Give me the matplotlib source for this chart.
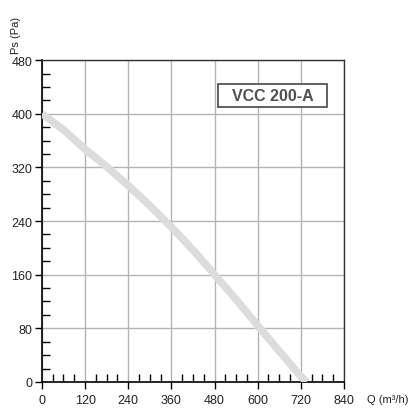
import matplotlib.pyplot as plt
from matplotlib.patches import Rectangle
from matplotlib.ticker import MultipleLocator

# fan curve (Q in m3/h, Ps in Pa)
flow = [0, 60, 120, 180, 240, 300, 360, 420, 480, 540, 600, 660, 720, 736]
pressure = [400, 376, 347, 321, 293, 263, 231, 197, 160, 123, 84, 46, 8, 0]

x_ticks = [0, 120, 240, 360, 480, 600, 720, 840]
y_ticks = [0, 80, 160, 240, 320, 400, 480]
model_name = "VCC 200-A"

plt.rcParams["font.family"] = ["Liberation Sans", "DejaVu Sans"]

fig = plt.figure(figsize=(4.11, 4.10), dpi=100)
ax = fig.add_axes([0.102, 0.066, 0.735, 0.785])

ax.plot(flow, pressure, color="#dcdcdc", lw=5.5, solid_capstyle="butt", zorder=3)

ax.set_xlim(0, 840)
ax.set_ylim(0, 480)
ax.set_xticks(x_ticks)
ax.set_yticks(y_ticks)
ax.xaxis.set_minor_locator(MultipleLocator(30))
ax.yaxis.set_minor_locator(MultipleLocator(20))
ax.grid(True, which="major", color="#b4b4b4", lw=1)
ax.set_axisbelow(True)

ax.tick_params(which="major", direction="out", length=5, width=1, labelsize=9,
               labelcolor="#222222")
ax.tick_params(axis="x", which="major", pad=4)
ax.tick_params(axis="y", which="major", pad=2)
ax.tick_params(which="minor", direction="in", length=6, width=1)
for side in ["left", "bottom"]:
    ax.spines[side].set_color("black")
    ax.spines[side].set_linewidth(1.2)
for side in ["top", "right"]:
    ax.spines[side].set_color("#333333")
    ax.spines[side].set_linewidth(1)

fig.text(0.040, 0.958, "Ps (Pa)", rotation=90, ha="center", va="top", fontsize=8,
         color="#222222")
fig.text(0.893, 0.024, "Q (m\u00b3/h)", ha="left", va="center", fontsize=8,
         color="#222222")

# label box for the fan model
ax.add_patch(Rectangle((490, 410), 303, 34, fc="white", ec="#555555", lw=1.3, zorder=4))
ax.text(641, 427, model_name, ha="center", va="center", fontsize=11.5,
        fontweight="bold", color="#505050", zorder=5)

fig.savefig("out.png", dpi=100)
